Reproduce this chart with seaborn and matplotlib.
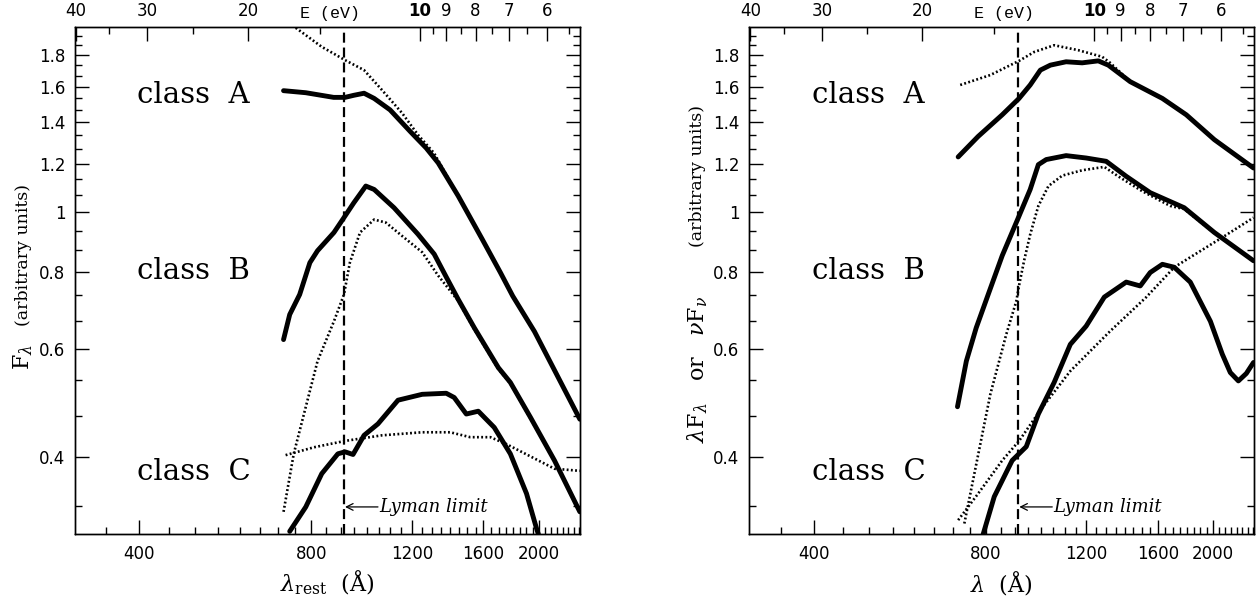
import matplotlib
matplotlib.use("Agg")
import matplotlib.pyplot as plt
import seaborn as sns
import pandas as pd
import numpy as np
from matplotlib.ticker import FixedLocator, FixedFormatter, NullFormatter

HC = 12398.4      # eV * Angstrom
LYMAN = 912.0
XLIM = (308.6, 2360.0)
YLIM = (0.3, 2.0)

# ---------- left panel : F_lambda ----------
left_a_wl = [715, 782, 875, 916, 949, 989, 1030, 1098, 1191, 1270, 1333, 1445, 1592, 1713, 1800, 1965, 2359]
left_a_f = [1.576, 1.564, 1.537, 1.537, 1.549, 1.561, 1.531, 1.467, 1.353, 1.272, 1.203, 1.063, 0.904, 0.798, 0.731, 0.640, 0.461]
left_a_dot_wl = [751, 834, 916, 989, 1063, 1153, 1229, 1311, 1445, 1592, 1713, 1800, 1965, 2359]
left_a_dot_f = [1.994, 1.857, 1.767, 1.702, 1.580, 1.449, 1.336, 1.248, 1.063, 0.904, 0.798, 0.731, 0.640, 0.461]

left_b_wl = [715, 733, 763, 795, 820, 876, 916, 949, 996, 1030, 1116, 1229, 1312, 1377, 1445, 1542, 1699, 1783, 1934, 2130, 2359]
left_b_f = [0.621, 0.682, 0.735, 0.828, 0.866, 0.927, 0.986, 1.036, 1.103, 1.089, 1.017, 0.921, 0.855, 0.785, 0.722, 0.649, 0.559, 0.529, 0.464, 0.395, 0.326]
left_b_dot_wl = [715, 745, 820, 876, 912, 934, 973, 1030, 1080, 1153, 1250, 1333, 1445, 1542, 1699, 1783, 1934, 2130, 2359]
left_b_dot_f = [0.326, 0.405, 0.573, 0.665, 0.735, 0.828, 0.927, 0.973, 0.962, 0.915, 0.861, 0.789, 0.718, 0.645, 0.556, 0.527, 0.462, 0.394, 0.326]

left_c_wl = [733, 782, 834, 890, 916, 946, 989, 1046, 1134, 1250, 1377, 1422, 1493, 1567, 1671, 1783, 1903, 1978, 2000]
left_c_f = [0.303, 0.332, 0.376, 0.405, 0.408, 0.404, 0.434, 0.453, 0.495, 0.506, 0.508, 0.500, 0.470, 0.475, 0.447, 0.405, 0.349, 0.308, 0.298]
left_c_dot_wl = [721, 808, 916, 1063, 1250, 1399, 1517, 1645, 1755, 1965, 2130, 2359]
left_c_dot_f = [0.403, 0.415, 0.425, 0.434, 0.439, 0.439, 0.431, 0.431, 0.420, 0.398, 0.383, 0.380]

# ---------- right panel : lambda F_lambda ----------
right_a_wl = [716, 776, 855, 915, 957, 997, 1038, 1106, 1180, 1259, 1311, 1432, 1630, 1795, 2010, 2353]
right_a_f = [1.230, 1.328, 1.440, 1.531, 1.610, 1.702, 1.734, 1.756, 1.749, 1.762, 1.734, 1.630, 1.531, 1.440, 1.312, 1.180]
right_a_dot_wl = [722, 815, 915, 973, 1054, 1161, 1279, 1320, 1432, 1630, 1795, 2010, 2353]
right_a_dot_f = [1.610, 1.671, 1.762, 1.822, 1.868, 1.834, 1.789, 1.750, 1.630, 1.531, 1.440, 1.312, 1.180]

right_b_wl = [714, 740, 770, 808, 855, 915, 957, 989, 1021, 1106, 1199, 1300, 1409, 1552, 1710, 1780, 2010, 2353]
right_b_f = [0.483, 0.573, 0.649, 0.735, 0.850, 0.986, 1.089, 1.195, 1.218, 1.236, 1.225, 1.210, 1.144, 1.076, 1.034, 1.017, 0.927, 0.834]
right_b_dot_wl = [734, 815, 869, 905, 915, 934, 957, 989, 1030, 1089, 1180, 1290, 1364, 1503, 1682, 1780, 2010, 2353]
right_b_dot_f = [0.312, 0.506, 0.633, 0.717, 0.760, 0.835, 0.920, 1.024, 1.103, 1.147, 1.170, 1.185, 1.144, 1.082, 1.024, 1.012, 0.925, 0.834]

right_c_wl = [792, 828, 890, 942, 989, 1054, 1125, 1199, 1290, 1409, 1491, 1552, 1630, 1710, 1824, 1978, 2075, 2143, 2214, 2286, 2353]
right_c_f = [0.300, 0.345, 0.395, 0.416, 0.470, 0.529, 0.610, 0.653, 0.728, 0.770, 0.759, 0.798, 0.823, 0.814, 0.770, 0.665, 0.588, 0.549, 0.532, 0.547, 0.570]
right_c_dot_wl = [716, 776, 855, 915, 1005, 1125, 1321, 1528, 1710, 1824, 2075, 2353]
right_c_dot_f = [0.316, 0.349, 0.395, 0.425, 0.482, 0.552, 0.641, 0.728, 0.814, 0.845, 0.910, 0.980]

# ticks and labels
x_major = [400, 800, 1200, 1600, 2000]
x_major_labels = ["400", "800", "1200", "1600", "2000"]
y_major = [0.4, 0.6, 0.8, 1.0, 1.2, 1.4, 1.6, 1.8]
y_major_labels = ["0.4", "0.6", "0.8", "1", "1.2", "1.4", "1.6", "1.8"]
e_major = [40, 30, 20, 10, 9, 8, 7, 6]
e_major_labels = ["40", "30", "20", "10", "9", "8", "7", "6"]
e_minor = [35, 25, 15, 9.5, 8.5, 7.5, 6.5, 5.5]
class_names = ["class  A", "class  B", "class  C"]
class_y = [1.551, 0.803, 0.378]

sns.set_style("ticks")
plt.rcParams["font.family"] = ["DejaVu Sans"]
plt.rcParams["mathtext.fontset"] = "dejavuserif"
plt.rcParams.update({"text.color": "black", "axes.labelcolor": "black",
                     "xtick.color": "black", "ytick.color": "black",
                     "axes.edgecolor": "black"})

fig = plt.figure(figsize=(12.58, 5.96), dpi=100)
ax_l = fig.add_axes([0.0596, 0.104, 0.4014, 0.8507])
ax_r = fig.add_axes([0.5956, 0.104, 0.4014, 0.8507])


def draw(ax, wl, f, dotted=False):
    df = pd.DataFrame({"wl": wl, "flux": f})
    if dotted:
        sns.lineplot(data=df, x="wl", y="flux", ax=ax, sort=False, estimator=None,
                     color="black", lw=1.9, linestyle=(0, (0.7, 0.9)))
    else:
        sns.lineplot(data=df, x="wl", y="flux", ax=ax, sort=False, estimator=None,
                     color="black", lw=3.5, solid_joinstyle="round")


def style_axes(ax, xlabel, ylab_main, ylab_pos):
    ax.set_xlim(*XLIM)
    ax.set_ylim(*YLIM)
    ax.xaxis.set_major_locator(FixedLocator(x_major))
    ax.xaxis.set_major_formatter(FixedFormatter(x_major_labels))
    x_minor = [v for v in range(350, 2400, 50) if v not in x_major]
    ax.xaxis.set_minor_locator(FixedLocator(x_minor))
    ax.xaxis.set_minor_formatter(NullFormatter())
    ax.yaxis.set_major_locator(FixedLocator(y_major))
    ax.yaxis.set_major_formatter(FixedFormatter(y_major_labels))
    y_minor = [k / 15 for k in range(5, 31) if k % 3 != 0]
    ax.yaxis.set_minor_locator(FixedLocator(y_minor))
    ax.yaxis.set_minor_formatter(NullFormatter())

    ax.axvline(LYMAN, color="black", lw=1.6, linestyle=(0, (4.5, 2.2)))
    ax.annotate("", xy=(916, 0.332), xytext=(1046, 0.332),
                arrowprops=dict(arrowstyle="->", lw=0.9, color="black",
                                shrinkA=0, shrinkB=0, mutation_scale=12))
    ax.text(1050, 0.332, "Lyman limit", style="italic", family="DejaVu Serif",
            fontsize=13, va="center", ha="left")
    for name, yv in zip(class_names, class_y):
        ax.text(397, yv, name, fontsize=21, family="DejaVu Serif",
                va="center", ha="left")

    ax.set_ylabel("")
    ax.set_xlabel(xlabel, fontsize=16, family="DejaVu Serif", labelpad=4)

    ax_t = ax.twiny()
    ax_t.set_xscale("log")
    ax_t.set_xlim(HC / XLIM[0], HC / XLIM[1])
    ax_t.xaxis.set_major_locator(FixedLocator(e_major))
    ax_t.xaxis.set_major_formatter(FixedFormatter(e_major_labels))
    ax_t.xaxis.set_minor_locator(FixedLocator(e_minor))
    ax_t.xaxis.set_minor_formatter(NullFormatter())
    ax_t.tick_params(axis="x", which="major", direction="in", length=10, width=1,
                     labelsize=12, pad=5)
    ax_t.tick_params(axis="x", which="minor", direction="in", length=5, width=1)
    for lab in ax_t.get_xticklabels():
        if lab.get_text() == "10":
            lab.set_fontweight("bold")
    ax.text(0.505, 1.026, "E (eV)", transform=ax.transAxes, ha="center",
            va="center", family="Liberation Mono", fontsize=12)

    ax.tick_params(axis="both", which="major", direction="in", length=10, width=1,
                   labelsize=12, right=True, top=False)
    ax.tick_params(axis="both", which="minor", direction="in", length=5, width=1,
                   right=True, top=False)
    ax.tick_params(axis="x", pad=8)
    ax.tick_params(axis="y", pad=7)
    for sp in list(ax.spines.values()) + list(ax_t.spines.values()):
        sp.set_linewidth(1.0)
        sp.set_color("black")

    for txt, fs, ypos in zip(ylab_main, [16, 12.5], ylab_pos):
        ax.text(-0.102, ypos, txt, transform=ax.transAxes, rotation=90,
                ha="center", va="center", fontsize=fs, family="DejaVu Serif")


for ax in (ax_l, ax_r):
    ax.set_xscale("log")
    ax.set_yscale("log")

for wl, f, d in [(left_a_wl, left_a_f, False), (left_a_dot_wl, left_a_dot_f, True),
                 (left_b_wl, left_b_f, False), (left_b_dot_wl, left_b_dot_f, True),
                 (left_c_wl, left_c_f, False), (left_c_dot_wl, left_c_dot_f, True)]:
    draw(ax_l, wl, f, d)

for wl, f, d in [(right_a_wl, right_a_f, False), (right_a_dot_wl, right_a_dot_f, True),
                 (right_b_wl, right_b_f, False), (right_b_dot_wl, right_b_dot_f, True),
                 (right_c_wl, right_c_f, False), (right_c_dot_wl, right_c_dot_f, True)]:
    draw(ax_r, wl, f, d)

style_axes(ax_l, r"$\lambda_{\rm rest}$  (Å)",
           [r"$\mathrm{F}_\lambda$", "(arbitrary units)"], [0.35, 0.55])
style_axes(ax_r, r"$\lambda$  (Å)",
           [r"$\lambda\mathrm{F}_\lambda$   or   $\nu\mathrm{F}_\nu$", "(arbitrary units)"],
           [0.325, 0.706])

fig.savefig("out.png", dpi=100)
plt.close(fig)
